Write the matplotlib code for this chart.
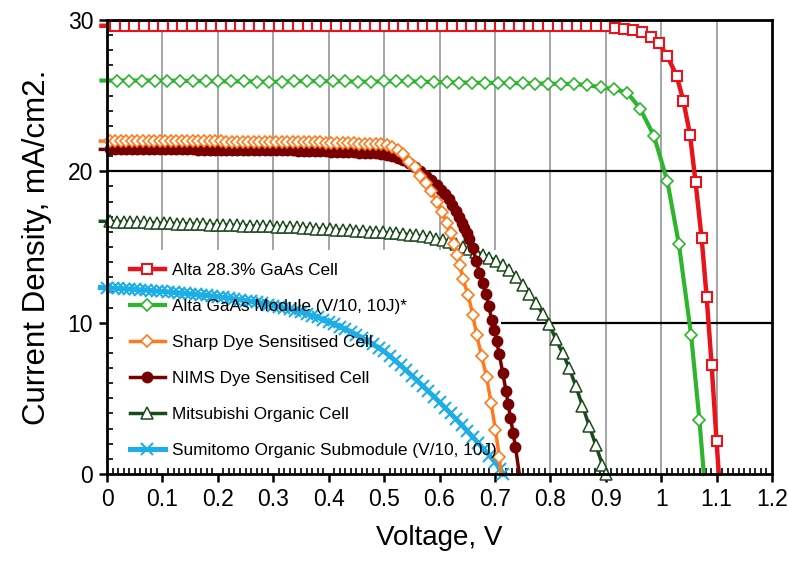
import numpy as np
import matplotlib
matplotlib.use('Agg')
import matplotlib.pyplot as plt
from matplotlib.patches import Rectangle
from matplotlib.ticker import MultipleLocator, FuncFormatter

plt.rcParams['font.family'] = ['Liberation Sans', 'DejaVu Sans']

# Data: voltage (V) and current density (mA/cm2)

v_alta_cell = [-0.010, 0.0145, 0.032, 0.049, 0.066, 0.084, 0.101, 0.119, 0.136, 0.153, 0.171,
               0.188, 0.205, 0.223, 0.240, 0.257, 0.275, 0.292, 0.310, 0.327, 0.344,
               0.362, 0.379, 0.396, 0.414, 0.431, 0.448, 0.466, 0.483, 0.501, 0.518,
               0.535, 0.553, 0.570, 0.587, 0.605, 0.622, 0.640, 0.657, 0.674, 0.692,
               0.709, 0.726, 0.744, 0.761, 0.778, 0.796, 0.813, 0.830, 0.848, 0.865,
               0.882, 0.900, 0.917, 0.933, 0.950, 0.966, 0.981, 0.996, 1.011, 1.028,
               1.040, 1.052, 1.062, 1.073, 1.082, 1.091, 1.100, 1.104]
j_alta_cell = [29.62, 29.62, 29.62, 29.62, 29.62, 29.62, 29.61, 29.61, 29.61, 29.61, 29.61,
               29.61, 29.60, 29.60, 29.60, 29.60, 29.60, 29.60, 29.60, 29.60, 29.60,
               29.60, 29.60, 29.60, 29.60, 29.60, 29.60, 29.60, 29.60, 29.60, 29.60,
               29.60, 29.60, 29.60, 29.60, 29.60, 29.60, 29.60, 29.60, 29.60, 29.60,
               29.60, 29.60, 29.60, 29.60, 29.60, 29.60, 29.60, 29.60, 29.59, 29.59,
               29.59, 29.58, 29.48, 29.41, 29.35, 29.19, 28.90, 28.46, 27.63, 26.30,
               24.67, 22.43, 19.30, 15.60, 11.72, 7.22, 2.16, 0.0]

v_alta_module = [-0.010, 0.0175, 0.040, 0.063, 0.086, 0.109, 0.132, 0.155, 0.178, 0.201, 0.224,
                 0.247, 0.270, 0.292, 0.315, 0.338, 0.361, 0.384, 0.407, 0.430, 0.453,
                 0.476, 0.499, 0.521, 0.544, 0.567, 0.590, 0.613, 0.636, 0.659, 0.682,
                 0.705, 0.728, 0.750, 0.773, 0.796, 0.819, 0.843, 0.867, 0.891, 0.915,
                 0.939, 0.962, 0.987, 1.011, 1.032, 1.054, 1.069, 1.077]
j_alta_module = [26.00, 26.00, 26.00, 26.00, 26.00, 26.00, 25.98, 25.97, 25.95, 25.95, 25.94,
                 25.95, 25.93, 25.92, 25.93, 25.95, 25.96, 25.96, 25.95, 25.94, 25.93,
                 25.93, 25.94, 25.96, 25.95, 25.93, 25.90, 25.88, 25.87, 25.86, 25.85,
                 25.84, 25.83, 25.82, 25.80, 25.80, 25.78, 25.78, 25.69, 25.56, 25.43,
                 25.20, 24.15, 22.34, 19.37, 15.18, 9.19, 3.57, 0.0]

v_sharp = [-0.012, 0.005, 0.015, 0.025, 0.035, 0.045, 0.055, 0.065, 0.075, 0.085, 0.095,
           0.105, 0.115, 0.125, 0.135, 0.145, 0.155, 0.165, 0.175, 0.185, 0.195,
           0.205, 0.215, 0.225, 0.235, 0.245, 0.255, 0.265, 0.275, 0.285, 0.295,
           0.305, 0.315, 0.325, 0.335, 0.345, 0.355, 0.365, 0.375, 0.385, 0.395,
           0.405, 0.415, 0.425, 0.435, 0.445, 0.455, 0.465, 0.475, 0.485, 0.495,
           0.505, 0.515, 0.525, 0.535, 0.545, 0.555, 0.565, 0.575, 0.585, 0.595,
           0.605, 0.613, 0.620, 0.626, 0.632, 0.637, 0.642, 0.652, 0.660, 0.667,
           0.676, 0.685, 0.693, 0.701, 0.708, 0.711]
j_sharp = [22.00, 22.00, 22.00, 22.00, 22.00, 22.00, 22.00, 22.00, 22.00, 22.00, 22.00,
           22.00, 22.00, 22.00, 22.00, 22.00, 21.99, 21.99, 21.99, 21.98, 21.98,
           21.98, 21.97, 21.97, 21.97, 21.96, 21.96, 21.96, 21.95, 21.95, 21.95,
           21.95, 21.95, 21.94, 21.94, 21.94, 21.93, 21.93, 21.92, 21.91, 21.90,
           21.89, 21.88, 21.87, 21.86, 21.85, 21.84, 21.83, 21.82, 21.81, 21.80,
           21.72, 21.60, 21.40, 21.15, 20.65, 20.30, 19.70, 19.25, 18.70, 18.00,
           17.30, 16.60, 15.90, 15.20, 14.50, 13.80, 12.90, 11.80, 10.50, 9.20,
           7.80, 6.40, 4.70, 2.90, 1.10, 0.0]

v_nims = [-0.012, 0.005, 0.015, 0.025, 0.035, 0.045, 0.055, 0.065, 0.075, 0.085, 0.095,
          0.105, 0.115, 0.125, 0.135, 0.145, 0.155, 0.165, 0.175, 0.185, 0.195,
          0.205, 0.215, 0.225, 0.235, 0.245, 0.255, 0.265, 0.275, 0.285, 0.295,
          0.305, 0.315, 0.325, 0.335, 0.345, 0.355, 0.365, 0.375, 0.385, 0.395,
          0.405, 0.415, 0.425, 0.435, 0.445, 0.455, 0.465, 0.475, 0.485, 0.495,
          0.505, 0.515, 0.525, 0.535, 0.545, 0.555, 0.565, 0.575, 0.585, 0.595,
          0.603, 0.610, 0.617, 0.623, 0.629, 0.636, 0.641, 0.645, 0.650, 0.654,
          0.660, 0.666, 0.672, 0.678, 0.684, 0.689, 0.694, 0.699, 0.703, 0.708,
          0.714, 0.720, 0.724, 0.728, 0.733, 0.737, 0.744]
j_nims = [21.45, 21.45, 21.45, 21.45, 21.45, 21.45, 21.45, 21.45, 21.45, 21.45, 21.45,
          21.45, 21.45, 21.45, 21.45, 21.45, 21.45, 21.44, 21.44, 21.44, 21.44,
          21.44, 21.43, 21.43, 21.43, 21.43, 21.42, 21.42, 21.42, 21.41, 21.41,
          21.40, 21.40, 21.39, 21.38, 21.37, 21.36, 21.35, 21.34, 21.33, 21.32,
          21.31, 21.30, 21.29, 21.28, 21.26, 21.24, 21.22, 21.20, 21.18, 21.15,
          21.10, 21.00, 20.88, 20.72, 20.52, 20.28, 20.00, 19.72, 19.40, 19.10,
          18.80, 18.50, 18.15, 17.80, 17.40, 17.00, 16.60, 16.25, 15.90, 15.55,
          14.95, 14.10, 13.30, 12.60, 11.90, 11.10, 10.20, 9.50, 8.80, 7.90,
          6.70, 5.50, 4.60, 3.70, 2.70, 1.80, 0.0]

v_mitsubishi = [-0.012, 0.006, 0.018, 0.030, 0.042, 0.054, 0.066, 0.078, 0.090, 0.102, 0.114,
                0.126, 0.138, 0.150, 0.162, 0.174, 0.186, 0.198, 0.210, 0.222, 0.234,
                0.246, 0.258, 0.270, 0.282, 0.294, 0.306, 0.318, 0.330, 0.342, 0.354,
                0.366, 0.378, 0.390, 0.402, 0.414, 0.426, 0.438, 0.450, 0.462, 0.474,
                0.486, 0.498, 0.510, 0.522, 0.534, 0.546, 0.558, 0.570, 0.582, 0.594,
                0.606, 0.618, 0.630, 0.642, 0.654, 0.666, 0.678, 0.690, 0.702, 0.714,
                0.726, 0.738, 0.750, 0.762, 0.774, 0.786, 0.798, 0.810, 0.822, 0.834,
                0.846, 0.858, 0.870, 0.882, 0.894, 0.900]
j_mitsubishi = [16.70, 16.69, 16.68, 16.66, 16.65, 16.63, 16.62, 16.61, 16.59, 16.58, 16.57,
                16.55, 16.54, 16.53, 16.51, 16.50, 16.48, 16.47, 16.46, 16.44, 16.43,
                16.42, 16.40, 16.39, 16.38, 16.36, 16.35, 16.33, 16.31, 16.29, 16.27,
                16.24, 16.21, 16.19, 16.17, 16.15, 16.13, 16.11, 16.08, 16.05, 16.02,
                15.99, 15.96, 15.93, 15.90, 15.86, 15.82, 15.77, 15.71, 15.64, 15.55,
                15.45, 15.33, 15.18, 15.03, 14.87, 14.70, 14.50, 14.30, 14.08, 13.80,
                13.45, 13.00, 12.50, 11.90, 11.30, 10.60, 9.90, 8.90, 8.00, 7.00,
                5.80, 4.50, 3.20, 1.90, 0.60, 0.0]

v_sumitomo = [-0.012, 0.00, 0.01, 0.02, 0.03, 0.04, 0.05, 0.06, 0.07, 0.08, 0.09,
              0.10, 0.11, 0.12, 0.13, 0.14, 0.15, 0.16, 0.17, 0.18, 0.19,
              0.20, 0.21, 0.22, 0.23, 0.24, 0.25, 0.26, 0.27, 0.28, 0.29,
              0.30, 0.31, 0.32, 0.33, 0.34, 0.35, 0.36, 0.37, 0.38, 0.39,
              0.40, 0.41, 0.42, 0.43, 0.44, 0.45, 0.46, 0.47, 0.48, 0.49,
              0.50, 0.51, 0.52, 0.53, 0.54, 0.55, 0.56, 0.57, 0.58, 0.59,
              0.60, 0.61, 0.62, 0.63, 0.64, 0.65, 0.66, 0.67, 0.68, 0.69,
              0.70, 0.71, 0.715]
j_sumitomo = [12.32, 12.30, 12.28, 12.26, 12.24, 12.22, 12.20, 12.17, 12.15, 12.12, 12.09,
              12.06, 12.03, 12.00, 11.97, 11.94, 11.91, 11.87, 11.84, 11.80, 11.76,
              11.72, 11.67, 11.62, 11.57, 11.52, 11.46, 11.40, 11.34, 11.27, 11.20,
              11.13, 11.05, 10.97, 10.88, 10.79, 10.69, 10.58, 10.47, 10.35, 10.20,
              10.05, 9.90, 9.74, 9.57, 9.39, 9.20, 9.00, 8.79, 8.57, 8.34,
              8.10, 7.80, 7.49, 7.17, 6.84, 6.50, 6.16, 5.81, 5.46, 5.11,
              4.75, 4.38, 4.00, 3.62, 3.24, 2.85, 2.45, 2.04, 1.63, 1.22,
              0.80, 0.30, 0.0]

labels = ['Alta 28.3% GaAs Cell', 'Alta GaAs Module (V/10, 10J)*',
          'Sharp Dye Sensitised Cell', 'NIMS Dye Sensitised Cell',
          'Mitsubishi Organic Cell', 'Sumitomo Organic Submodule (V/10, 10J)']

# styles: (line, marker). markevery skips the stub left of the axis
styles = [
    dict(color='#e8141c', lw=3.2, marker='s', ms=7.5, mfc='white', mew=1.5, markevery=slice(1, -1)),
    dict(color='#2db52d', lw=3.0, marker='D', ms=6, mfc='white', mew=1.2, markevery=slice(1, -1)),
    dict(color='#ff7a1e', lw=2.5, marker='D', ms=6, mfc='white', mew=1.2, markevery=slice(1, -1)),
    dict(color='#780000', lw=2.5, marker='o', ms=7.5, mfc='#780000', mew=1, markevery=slice(1, -1)),
    dict(color='#1b4a1b', lw=2.5, marker='^', ms=8, mfc='white', mew=1.1, markevery=slice(1, None)),
    dict(color='#1eaee6', lw=3.6, marker='x', ms=9, mew=1.5, markevery=slice(1, None)),
]
data = [(v_alta_cell, j_alta_cell), (v_alta_module, j_alta_module),
        (v_sharp, j_sharp), (v_nims, j_nims),
        (v_mitsubishi, j_mitsubishi), (v_sumitomo, j_sumitomo)]

fig = plt.figure(figsize=(7.88, 5.61), dpi=100)
ax = fig.add_axes([0.1358, 0.1551, 0.8439, 0.8092])
ax.set_xlim(0, 1.2)
ax.set_ylim(0, 30)

# grid by hand: grey verticals, black horizontals
for gx in np.arange(0.1, 1.15, 0.1):
    ax.axvline(gx, color='#8c8c8c', lw=1.1, zorder=0.5)
for gy in (10, 20):
    ax.axhline(gy, color='black', lw=1.6, zorder=0.5)

# white backing of the legend, under the curves
ax.add_patch(Rectangle((0, 0), 0.5925, 0.4934, transform=ax.transAxes,
                       facecolor='white', edgecolor='none', zorder=1))

# draw last series first so that earlier ones sit on top
handles = [None] * len(data)
for i in reversed(range(len(data))):
    v, j = data[i]
    ln, = ax.plot(v, j, clip_on=False, zorder=2, **styles[i])
    handles[i] = ln

leg = ax.legend(handles, labels, loc='upper left', bbox_to_anchor=(0.0245, 0.480),
                borderaxespad=0, frameon=False, fontsize=12.4, handlelength=2.0,
                handletextpad=0.42, labelspacing=1.22, numpoints=1, borderpad=0.4)
leg.set_zorder(5)

ax.xaxis.set_major_locator(MultipleLocator(0.1))
ax.xaxis.set_minor_locator(MultipleLocator(0.01))
ax.yaxis.set_major_locator(MultipleLocator(10))
ax.yaxis.set_minor_locator(MultipleLocator(1))
ax.xaxis.set_major_formatter(FuncFormatter(lambda x, p: '%g' % round(x, 2)))
ax.tick_params(which='major', direction='out', length=6, width=1.8, labelsize=16.5, pad=4)
ax.tick_params(which='minor', direction='in', length=4, width=1.2)
for sp in ax.spines.values():
    sp.set_linewidth(2)

ax.set_xlabel('Voltage, V', fontsize=20, labelpad=10)
ax.set_ylabel('Current Density, mA/cm2.', fontsize=22.5, labelpad=11)

fig.savefig('out.png', dpi=100)
